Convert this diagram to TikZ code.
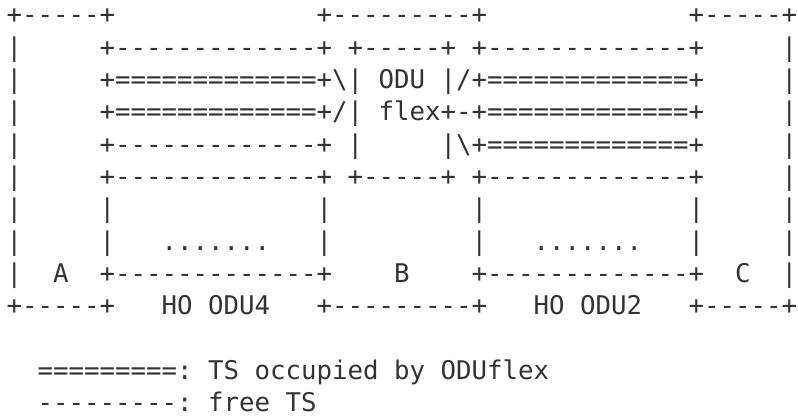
\documentclass[tikz,border=0pt]{standalone}
\usepackage{fontspec}
\setmonofont{DejaVu Sans Mono}
\definecolor{ink}{RGB}{51,51,51}
\tikzset{txt/.style={anchor=base west,inner sep=0pt,text=ink,
  font=\ttfamily\fontsize{12.87pt}{16pt}\selectfont}}
\newcommand{\bs}{\textbackslash}
\begin{document}
\begin{tikzpicture}[x=7.75pt,y=-16.17pt]
\useasboundingbox (-0.403,-0.733) rectangle (51.08,12.16);
% row 0
\node[txt] (r0a) at (0,0) {+-----+};
\node[txt] (r0b) at (20,0) {+---------+};
\node[txt] (r0c) at (44,0) {+-----+};
% row 1
\node[txt] (r1a) at (0,1) {|};
\node[txt] (r1b) at (6,1) {+-------------+};
\node[txt] (r1c) at (22,1) {+-----+};
\node[txt] (r1d) at (30,1) {+-------------+};
\node[txt] (r1e) at (50,1) {|};
% row 2
\node[txt] (r2a) at (0,2) {|};
\node[txt] (r2b) at (6,2) {+=============+\bs|};
\node[txt] (r2c) at (24,2) {ODU};
\node[txt] (r2d) at (28,2) {|/+=============+};
\node[txt] (r2e) at (50,2) {|};
% row 3
\node[txt] (r3a) at (0,3) {|};
\node[txt] (r3b) at (6,3) {+=============+/|};
\node[txt] (r3c) at (24,3) {flex+-+=============+};
\node[txt] (r3d) at (50,3) {|};
% row 4
\node[txt] (r4a) at (0,4) {|};
\node[txt] (r4b) at (6,4) {+-------------+};
\node[txt] (r4c) at (22,4) {|};
\node[txt] (r4d) at (28,4) {|\bs+=============+};
\node[txt] (r4e) at (50,4) {|};
% row 5
\node[txt] (r5a) at (0,5) {|};
\node[txt] (r5b) at (6,5) {+-------------+};
\node[txt] (r5c) at (22,5) {+-----+};
\node[txt] (r5d) at (30,5) {+-------------+};
\node[txt] (r5e) at (50,5) {|};
% row 6
\node[txt] (r6a) at (0,6) {|};
\node[txt] (r6b) at (6,6) {|};
\node[txt] (r6c) at (20,6) {|};
\node[txt] (r6d) at (30,6) {|};
\node[txt] (r6e) at (44,6) {|};
\node[txt] (r6f) at (50,6) {|};
% row 7
\node[txt] (r7a) at (0,7) {|};
\node[txt] (r7b) at (6,7) {|};
\node[txt] (r7c) at (10,7) {.......};
\node[txt] (r7d) at (20,7) {|};
\node[txt] (r7e) at (30,7) {|};
\node[txt] (r7f) at (34,7) {.......};
\node[txt] (r7g) at (44,7) {|};
\node[txt] (r7h) at (50,7) {|};
% row 8
\node[txt] (r8a) at (0,8) {|};
\node[txt] (nodeA) at (3,8) {A};
\node[txt] (r8b) at (6,8) {+-------------+};
\node[txt] (nodeB) at (25,8) {B};
\node[txt] (r8c) at (30,8) {+-------------+};
\node[txt] (nodeC) at (47,8) {C};
\node[txt] (r8d) at (50,8) {|};
% row 9
\node[txt] (r9a) at (0,9) {+-----+};
\node[txt] (odu4) at (10,9) {HO ODU4};
\node[txt] (r9b) at (20,9) {+---------+};
\node[txt] (odu2) at (34,9) {HO ODU2};
\node[txt] (r9c) at (44,9) {+-----+};
% legend
\node[txt] (leg1) at (2,11) {=========: TS occupied by ODUflex};
\node[txt] (leg2) at (2,12) {---------: free TS};
\end{tikzpicture}
\end{document}
